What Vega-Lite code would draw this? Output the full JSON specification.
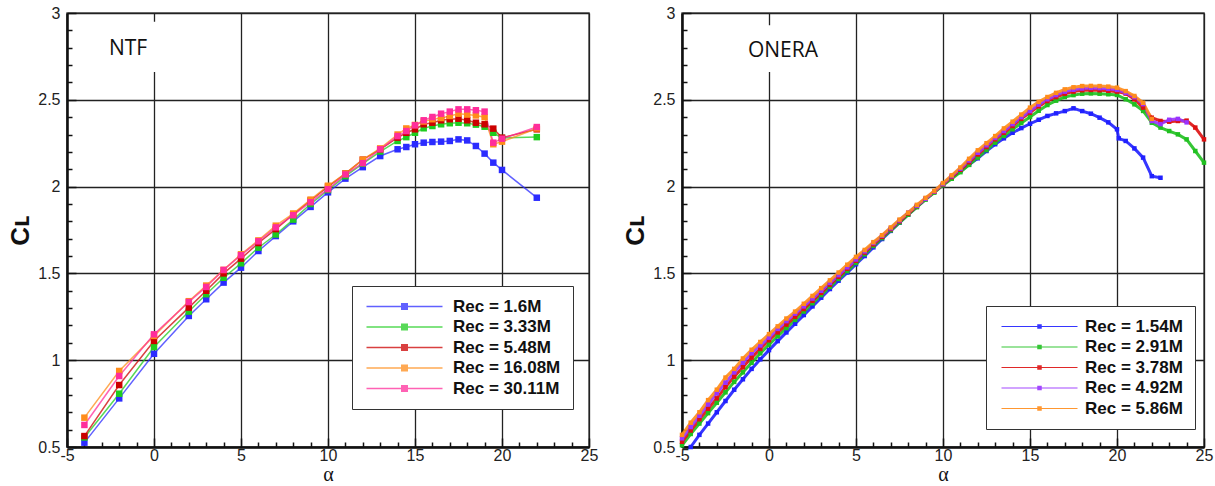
{
  "$schema": "https://vega.github.io/schema/vega-lite/v6.json",
  "background": "white",
  "padding": {"left": 7, "top": 4, "right": 2, "bottom": 0},
  "spacing": 23,
  "config": {
    "view": {"stroke": "#555", "strokeWidth": 1.5},
    "font": "Liberation Sans",
    "axis": {"labelFont": "Liberation Sans", "labelFontSize": 16, "labelColor": "#222", "domainColor": "#111", "domainWidth": 2.5, "tickColor": "#111", "tickWidth": 1.5, "gridColor": "#222", "gridWidth": 1.3, "labelOverlap": false, "labelFlush": false, "titleColor": "#111"}
  },
  "datasets": {
    "ntf": [
      {"s":"Rec = 1.6M","a":-4,"c":0.525},{"s":"Rec = 1.6M","a":-2,"c":0.78},{"s":"Rec = 1.6M","a":0,"c":1.037},{"s":"Rec = 1.6M","a":2,"c":1.255},{"s":"Rec = 1.6M","a":3,"c":1.351},{"s":"Rec = 1.6M","a":4,"c":1.447},{"s":"Rec = 1.6M","a":5,"c":1.533},{"s":"Rec = 1.6M","a":6,"c":1.629},{"s":"Rec = 1.6M","a":7,"c":1.715},{"s":"Rec = 1.6M","a":8,"c":1.8},{"s":"Rec = 1.6M","a":9,"c":1.883},{"s":"Rec = 1.6M","a":10,"c":1.967},{"s":"Rec = 1.6M","a":11,"c":2.046},{"s":"Rec = 1.6M","a":12,"c":2.112},{"s":"Rec = 1.6M","a":13,"c":2.176},{"s":"Rec = 1.6M","a":14,"c":2.215},{"s":"Rec = 1.6M","a":14.5,"c":2.228},{"s":"Rec = 1.6M","a":15,"c":2.244},{"s":"Rec = 1.6M","a":15.5,"c":2.253},{"s":"Rec = 1.6M","a":16,"c":2.257},{"s":"Rec = 1.6M","a":16.5,"c":2.259},{"s":"Rec = 1.6M","a":17,"c":2.263},{"s":"Rec = 1.6M","a":17.5,"c":2.272},{"s":"Rec = 1.6M","a":18,"c":2.266},{"s":"Rec = 1.6M","a":18.5,"c":2.234},{"s":"Rec = 1.6M","a":19,"c":2.19},{"s":"Rec = 1.6M","a":19.5,"c":2.138},{"s":"Rec = 1.6M","a":20,"c":2.096},{"s":"Rec = 1.6M","a":22,"c":1.936},
      {"s":"Rec = 3.33M","a":-4,"c":0.555},{"s":"Rec = 3.33M","a":-2,"c":0.807},{"s":"Rec = 3.33M","a":0,"c":1.076},{"s":"Rec = 3.33M","a":2,"c":1.28},{"s":"Rec = 3.33M","a":3,"c":1.38},{"s":"Rec = 3.33M","a":4,"c":1.475},{"s":"Rec = 3.33M","a":5,"c":1.558},{"s":"Rec = 3.33M","a":6,"c":1.648},{"s":"Rec = 3.33M","a":7,"c":1.724},{"s":"Rec = 3.33M","a":8,"c":1.81},{"s":"Rec = 3.33M","a":9,"c":1.9},{"s":"Rec = 3.33M","a":10,"c":1.98},{"s":"Rec = 3.33M","a":11,"c":2.06},{"s":"Rec = 3.33M","a":12,"c":2.132},{"s":"Rec = 3.33M","a":13,"c":2.202},{"s":"Rec = 3.33M","a":14,"c":2.263},{"s":"Rec = 3.33M","a":14.5,"c":2.285},{"s":"Rec = 3.33M","a":15,"c":2.31},{"s":"Rec = 3.33M","a":15.5,"c":2.336},{"s":"Rec = 3.33M","a":16,"c":2.349},{"s":"Rec = 3.33M","a":16.5,"c":2.359},{"s":"Rec = 3.33M","a":17,"c":2.365},{"s":"Rec = 3.33M","a":17.5,"c":2.368},{"s":"Rec = 3.33M","a":18,"c":2.365},{"s":"Rec = 3.33M","a":18.5,"c":2.357},{"s":"Rec = 3.33M","a":19,"c":2.345},{"s":"Rec = 3.33M","a":19.5,"c":2.31},{"s":"Rec = 3.33M","a":20,"c":2.28},{"s":"Rec = 3.33M","a":22,"c":2.285},
      {"s":"Rec = 5.48M","a":-4,"c":0.563},{"s":"Rec = 5.48M","a":-2,"c":0.857},{"s":"Rec = 5.48M","a":0,"c":1.111},{"s":"Rec = 5.48M","a":2,"c":1.303},{"s":"Rec = 5.48M","a":3,"c":1.4},{"s":"Rec = 5.48M","a":4,"c":1.5},{"s":"Rec = 5.48M","a":5,"c":1.585},{"s":"Rec = 5.48M","a":6,"c":1.675},{"s":"Rec = 5.48M","a":7,"c":1.755},{"s":"Rec = 5.48M","a":8,"c":1.84},{"s":"Rec = 5.48M","a":9,"c":1.92},{"s":"Rec = 5.48M","a":10,"c":2.0},{"s":"Rec = 5.48M","a":11,"c":2.075},{"s":"Rec = 5.48M","a":12,"c":2.155},{"s":"Rec = 5.48M","a":13,"c":2.215},{"s":"Rec = 5.48M","a":14,"c":2.282},{"s":"Rec = 5.48M","a":14.5,"c":2.31},{"s":"Rec = 5.48M","a":15,"c":2.33},{"s":"Rec = 5.48M","a":15.5,"c":2.359},{"s":"Rec = 5.48M","a":16,"c":2.368},{"s":"Rec = 5.48M","a":16.5,"c":2.382},{"s":"Rec = 5.48M","a":17,"c":2.388},{"s":"Rec = 5.48M","a":17.5,"c":2.391},{"s":"Rec = 5.48M","a":18,"c":2.382},{"s":"Rec = 5.48M","a":18.5,"c":2.368},{"s":"Rec = 5.48M","a":19,"c":2.359},{"s":"Rec = 5.48M","a":19.5,"c":2.334},{"s":"Rec = 5.48M","a":20,"c":2.282},{"s":"Rec = 5.48M","a":22,"c":2.33},
      {"s":"Rec = 16.08M","a":-4,"c":0.669},{"s":"Rec = 16.08M","a":-2,"c":0.938},{"s":"Rec = 16.08M","a":0,"c":1.14},{"s":"Rec = 16.08M","a":2,"c":1.34},{"s":"Rec = 16.08M","a":3,"c":1.43},{"s":"Rec = 16.08M","a":4,"c":1.52},{"s":"Rec = 16.08M","a":5,"c":1.61},{"s":"Rec = 16.08M","a":6,"c":1.69},{"s":"Rec = 16.08M","a":7,"c":1.775},{"s":"Rec = 16.08M","a":8,"c":1.845},{"s":"Rec = 16.08M","a":9,"c":1.925},{"s":"Rec = 16.08M","a":10,"c":2.005},{"s":"Rec = 16.08M","a":11,"c":2.075},{"s":"Rec = 16.08M","a":12,"c":2.155},{"s":"Rec = 16.08M","a":13,"c":2.22},{"s":"Rec = 16.08M","a":14,"c":2.3},{"s":"Rec = 16.08M","a":14.5,"c":2.335},{"s":"Rec = 16.08M","a":15,"c":2.355},{"s":"Rec = 16.08M","a":15.5,"c":2.375},{"s":"Rec = 16.08M","a":16,"c":2.388},{"s":"Rec = 16.08M","a":16.5,"c":2.395},{"s":"Rec = 16.08M","a":17,"c":2.407},{"s":"Rec = 16.08M","a":17.5,"c":2.42},{"s":"Rec = 16.08M","a":18,"c":2.415},{"s":"Rec = 16.08M","a":18.5,"c":2.41},{"s":"Rec = 16.08M","a":19,"c":2.4},{"s":"Rec = 16.08M","a":19.5,"c":2.244},{"s":"Rec = 16.08M","a":20,"c":2.259},{"s":"Rec = 16.08M","a":22,"c":2.335},
      {"s":"Rec = 30.11M","a":-4,"c":0.627},{"s":"Rec = 30.11M","a":-2,"c":0.909},{"s":"Rec = 30.11M","a":0,"c":1.149},{"s":"Rec = 30.11M","a":2,"c":1.335},{"s":"Rec = 30.11M","a":3,"c":1.422},{"s":"Rec = 30.11M","a":4,"c":1.52},{"s":"Rec = 30.11M","a":5,"c":1.605},{"s":"Rec = 30.11M","a":6,"c":1.685},{"s":"Rec = 30.11M","a":7,"c":1.765},{"s":"Rec = 30.11M","a":8,"c":1.835},{"s":"Rec = 30.11M","a":9,"c":1.91},{"s":"Rec = 30.11M","a":10,"c":1.985},{"s":"Rec = 30.11M","a":11,"c":2.07},{"s":"Rec = 30.11M","a":12,"c":2.135},{"s":"Rec = 30.11M","a":13,"c":2.215},{"s":"Rec = 30.11M","a":14,"c":2.291},{"s":"Rec = 30.11M","a":14.5,"c":2.32},{"s":"Rec = 30.11M","a":15,"c":2.353},{"s":"Rec = 30.11M","a":15.5,"c":2.382},{"s":"Rec = 30.11M","a":16,"c":2.401},{"s":"Rec = 30.11M","a":16.5,"c":2.42},{"s":"Rec = 30.11M","a":17,"c":2.432},{"s":"Rec = 30.11M","a":17.5,"c":2.445},{"s":"Rec = 30.11M","a":18,"c":2.445},{"s":"Rec = 30.11M","a":18.5,"c":2.44},{"s":"Rec = 30.11M","a":19,"c":2.432},{"s":"Rec = 30.11M","a":19.5,"c":2.253},{"s":"Rec = 30.11M","a":20,"c":2.276},{"s":"Rec = 30.11M","a":22,"c":2.343}
    ],
    "onera": [
      {"s":"Rec = 1.54M","a":-4.5,"c":0.5},{"s":"Rec = 1.54M","a":-4,"c":0.57},{"s":"Rec = 1.54M","a":-3.5,"c":0.635},{"s":"Rec = 1.54M","a":-3,"c":0.7},{"s":"Rec = 1.54M","a":-2.5,"c":0.765},{"s":"Rec = 1.54M","a":-2,"c":0.83},{"s":"Rec = 1.54M","a":-1.5,"c":0.89},{"s":"Rec = 1.54M","a":-1,"c":0.95},{"s":"Rec = 1.54M","a":-0.5,"c":1.005},{"s":"Rec = 1.54M","a":0,"c":1.058},{"s":"Rec = 1.54M","a":0.5,"c":1.11},{"s":"Rec = 1.54M","a":1,"c":1.16},{"s":"Rec = 1.54M","a":1.5,"c":1.21},{"s":"Rec = 1.54M","a":2,"c":1.26},{"s":"Rec = 1.54M","a":2.5,"c":1.31},{"s":"Rec = 1.54M","a":3,"c":1.36},{"s":"Rec = 1.54M","a":3.5,"c":1.41},{"s":"Rec = 1.54M","a":4,"c":1.458},{"s":"Rec = 1.54M","a":4.5,"c":1.505},{"s":"Rec = 1.54M","a":5,"c":1.553},{"s":"Rec = 1.54M","a":5.5,"c":1.6},{"s":"Rec = 1.54M","a":6,"c":1.65},{"s":"Rec = 1.54M","a":6.5,"c":1.698},{"s":"Rec = 1.54M","a":7,"c":1.745},{"s":"Rec = 1.54M","a":7.5,"c":1.792},{"s":"Rec = 1.54M","a":8,"c":1.838},{"s":"Rec = 1.54M","a":8.5,"c":1.883},{"s":"Rec = 1.54M","a":9,"c":1.928},{"s":"Rec = 1.54M","a":9.5,"c":1.97},{"s":"Rec = 1.54M","a":10,"c":2.01},{"s":"Rec = 1.54M","a":10.5,"c":2.05},{"s":"Rec = 1.54M","a":11,"c":2.09},{"s":"Rec = 1.54M","a":11.5,"c":2.127},{"s":"Rec = 1.54M","a":12,"c":2.163},{"s":"Rec = 1.54M","a":12.5,"c":2.205},{"s":"Rec = 1.54M","a":13,"c":2.244},{"s":"Rec = 1.54M","a":13.5,"c":2.278},{"s":"Rec = 1.54M","a":14,"c":2.31},{"s":"Rec = 1.54M","a":14.5,"c":2.337},{"s":"Rec = 1.54M","a":15,"c":2.362},{"s":"Rec = 1.54M","a":15.5,"c":2.385},{"s":"Rec = 1.54M","a":16,"c":2.407},{"s":"Rec = 1.54M","a":16.5,"c":2.422},{"s":"Rec = 1.54M","a":17,"c":2.435},{"s":"Rec = 1.54M","a":17.5,"c":2.451},{"s":"Rec = 1.54M","a":18,"c":2.435},{"s":"Rec = 1.54M","a":18.5,"c":2.42},{"s":"Rec = 1.54M","a":19,"c":2.397},{"s":"Rec = 1.54M","a":19.5,"c":2.37},{"s":"Rec = 1.54M","a":20,"c":2.33},{"s":"Rec = 1.54M","a":20.1,"c":2.278},{"s":"Rec = 1.54M","a":20.5,"c":2.263},{"s":"Rec = 1.54M","a":21,"c":2.22},{"s":"Rec = 1.54M","a":21.5,"c":2.167},{"s":"Rec = 1.54M","a":22,"c":2.06},{"s":"Rec = 1.54M","a":22.5,"c":2.051},
      {"s":"Rec = 2.91M","a":-5,"c":0.51},{"s":"Rec = 2.91M","a":-4.5,"c":0.575},{"s":"Rec = 2.91M","a":-4,"c":0.635},{"s":"Rec = 2.91M","a":-3.5,"c":0.695},{"s":"Rec = 2.91M","a":-3,"c":0.755},{"s":"Rec = 2.91M","a":-2.5,"c":0.815},{"s":"Rec = 2.91M","a":-2,"c":0.875},{"s":"Rec = 2.91M","a":-1.5,"c":0.93},{"s":"Rec = 2.91M","a":-1,"c":0.985},{"s":"Rec = 2.91M","a":-0.5,"c":1.04},{"s":"Rec = 2.91M","a":0,"c":1.09},{"s":"Rec = 2.91M","a":0.5,"c":1.138},{"s":"Rec = 2.91M","a":1,"c":1.185},{"s":"Rec = 2.91M","a":1.5,"c":1.232},{"s":"Rec = 2.91M","a":2,"c":1.28},{"s":"Rec = 2.91M","a":2.5,"c":1.328},{"s":"Rec = 2.91M","a":3,"c":1.375},{"s":"Rec = 2.91M","a":3.5,"c":1.422},{"s":"Rec = 2.91M","a":4,"c":1.468},{"s":"Rec = 2.91M","a":4.5,"c":1.513},{"s":"Rec = 2.91M","a":5,"c":1.56},{"s":"Rec = 2.91M","a":5.5,"c":1.61},{"s":"Rec = 2.91M","a":6,"c":1.658},{"s":"Rec = 2.91M","a":6.5,"c":1.703},{"s":"Rec = 2.91M","a":7,"c":1.748},{"s":"Rec = 2.91M","a":7.5,"c":1.793},{"s":"Rec = 2.91M","a":8,"c":1.838},{"s":"Rec = 2.91M","a":8.5,"c":1.882},{"s":"Rec = 2.91M","a":9,"c":1.925},{"s":"Rec = 2.91M","a":9.5,"c":1.965},{"s":"Rec = 2.91M","a":10,"c":2.008},{"s":"Rec = 2.91M","a":10.5,"c":2.045},{"s":"Rec = 2.91M","a":11,"c":2.083},{"s":"Rec = 2.91M","a":11.5,"c":2.125},{"s":"Rec = 2.91M","a":12,"c":2.167},{"s":"Rec = 2.91M","a":12.5,"c":2.21},{"s":"Rec = 2.91M","a":13,"c":2.253},{"s":"Rec = 2.91M","a":13.5,"c":2.292},{"s":"Rec = 2.91M","a":14,"c":2.33},{"s":"Rec = 2.91M","a":14.5,"c":2.366},{"s":"Rec = 2.91M","a":15,"c":2.401},{"s":"Rec = 2.91M","a":15.5,"c":2.437},{"s":"Rec = 2.91M","a":16,"c":2.47},{"s":"Rec = 2.91M","a":16.5,"c":2.495},{"s":"Rec = 2.91M","a":17,"c":2.516},{"s":"Rec = 2.91M","a":17.5,"c":2.527},{"s":"Rec = 2.91M","a":18,"c":2.535},{"s":"Rec = 2.91M","a":18.5,"c":2.537},{"s":"Rec = 2.91M","a":19,"c":2.535},{"s":"Rec = 2.91M","a":19.5,"c":2.532},{"s":"Rec = 2.91M","a":20,"c":2.528},{"s":"Rec = 2.91M","a":20.5,"c":2.503},{"s":"Rec = 2.91M","a":21,"c":2.474},{"s":"Rec = 2.91M","a":21.5,"c":2.436},{"s":"Rec = 2.91M","a":22,"c":2.368},{"s":"Rec = 2.91M","a":22.5,"c":2.34},{"s":"Rec = 2.91M","a":23,"c":2.32},{"s":"Rec = 2.91M","a":23.5,"c":2.301},{"s":"Rec = 2.91M","a":24,"c":2.272},{"s":"Rec = 2.91M","a":24.5,"c":2.205},{"s":"Rec = 2.91M","a":25,"c":2.138},
      {"s":"Rec = 3.78M","a":-5,"c":0.53},{"s":"Rec = 3.78M","a":-4.5,"c":0.595},{"s":"Rec = 3.78M","a":-4,"c":0.66},{"s":"Rec = 3.78M","a":-3.5,"c":0.72},{"s":"Rec = 3.78M","a":-3,"c":0.78},{"s":"Rec = 3.78M","a":-2.5,"c":0.845},{"s":"Rec = 3.78M","a":-2,"c":0.905},{"s":"Rec = 3.78M","a":-1.5,"c":0.96},{"s":"Rec = 3.78M","a":-1,"c":1.015},{"s":"Rec = 3.78M","a":-0.5,"c":1.065},{"s":"Rec = 3.78M","a":0,"c":1.115},{"s":"Rec = 3.78M","a":0.5,"c":1.16},{"s":"Rec = 3.78M","a":1,"c":1.205},{"s":"Rec = 3.78M","a":1.5,"c":1.25},{"s":"Rec = 3.78M","a":2,"c":1.295},{"s":"Rec = 3.78M","a":2.5,"c":1.342},{"s":"Rec = 3.78M","a":3,"c":1.388},{"s":"Rec = 3.78M","a":3.5,"c":1.435},{"s":"Rec = 3.78M","a":4,"c":1.48},{"s":"Rec = 3.78M","a":4.5,"c":1.527},{"s":"Rec = 3.78M","a":5,"c":1.573},{"s":"Rec = 3.78M","a":5.5,"c":1.62},{"s":"Rec = 3.78M","a":6,"c":1.667},{"s":"Rec = 3.78M","a":6.5,"c":1.71},{"s":"Rec = 3.78M","a":7,"c":1.755},{"s":"Rec = 3.78M","a":7.5,"c":1.8},{"s":"Rec = 3.78M","a":8,"c":1.845},{"s":"Rec = 3.78M","a":8.5,"c":1.888},{"s":"Rec = 3.78M","a":9,"c":1.93},{"s":"Rec = 3.78M","a":9.5,"c":1.97},{"s":"Rec = 3.78M","a":10,"c":2.013},{"s":"Rec = 3.78M","a":10.5,"c":2.055},{"s":"Rec = 3.78M","a":11,"c":2.097},{"s":"Rec = 3.78M","a":11.5,"c":2.14},{"s":"Rec = 3.78M","a":12,"c":2.185},{"s":"Rec = 3.78M","a":12.5,"c":2.228},{"s":"Rec = 3.78M","a":13,"c":2.272},{"s":"Rec = 3.78M","a":13.5,"c":2.31},{"s":"Rec = 3.78M","a":14,"c":2.349},{"s":"Rec = 3.78M","a":14.5,"c":2.39},{"s":"Rec = 3.78M","a":15,"c":2.426},{"s":"Rec = 3.78M","a":15.5,"c":2.462},{"s":"Rec = 3.78M","a":16,"c":2.493},{"s":"Rec = 3.78M","a":16.5,"c":2.516},{"s":"Rec = 3.78M","a":17,"c":2.535},{"s":"Rec = 3.78M","a":17.5,"c":2.547},{"s":"Rec = 3.78M","a":18,"c":2.555},{"s":"Rec = 3.78M","a":18.5,"c":2.557},{"s":"Rec = 3.78M","a":19,"c":2.555},{"s":"Rec = 3.78M","a":19.5,"c":2.552},{"s":"Rec = 3.78M","a":20,"c":2.547},{"s":"Rec = 3.78M","a":20.5,"c":2.536},{"s":"Rec = 3.78M","a":21,"c":2.503},{"s":"Rec = 3.78M","a":21.5,"c":2.455},{"s":"Rec = 3.78M","a":22,"c":2.397},{"s":"Rec = 3.78M","a":22.5,"c":2.378},{"s":"Rec = 3.78M","a":23,"c":2.374},{"s":"Rec = 3.78M","a":23.5,"c":2.378},{"s":"Rec = 3.78M","a":24,"c":2.38},{"s":"Rec = 3.78M","a":24.5,"c":2.34},{"s":"Rec = 3.78M","a":25,"c":2.272},
      {"s":"Rec = 4.92M","a":-5,"c":0.55},{"s":"Rec = 4.92M","a":-4.5,"c":0.615},{"s":"Rec = 4.92M","a":-4,"c":0.68},{"s":"Rec = 4.92M","a":-3.5,"c":0.745},{"s":"Rec = 4.92M","a":-3,"c":0.81},{"s":"Rec = 4.92M","a":-2.5,"c":0.87},{"s":"Rec = 4.92M","a":-2,"c":0.93},{"s":"Rec = 4.92M","a":-1.5,"c":0.985},{"s":"Rec = 4.92M","a":-1,"c":1.04},{"s":"Rec = 4.92M","a":-0.5,"c":1.085},{"s":"Rec = 4.92M","a":0,"c":1.13},{"s":"Rec = 4.92M","a":0.5,"c":1.18},{"s":"Rec = 4.92M","a":1,"c":1.225},{"s":"Rec = 4.92M","a":1.5,"c":1.268},{"s":"Rec = 4.92M","a":2,"c":1.31},{"s":"Rec = 4.92M","a":2.5,"c":1.355},{"s":"Rec = 4.92M","a":3,"c":1.4},{"s":"Rec = 4.92M","a":3.5,"c":1.445},{"s":"Rec = 4.92M","a":4,"c":1.49},{"s":"Rec = 4.92M","a":4.5,"c":1.535},{"s":"Rec = 4.92M","a":5,"c":1.58},{"s":"Rec = 4.92M","a":5.5,"c":1.627},{"s":"Rec = 4.92M","a":6,"c":1.675},{"s":"Rec = 4.92M","a":6.5,"c":1.717},{"s":"Rec = 4.92M","a":7,"c":1.76},{"s":"Rec = 4.92M","a":7.5,"c":1.805},{"s":"Rec = 4.92M","a":8,"c":1.85},{"s":"Rec = 4.92M","a":8.5,"c":1.89},{"s":"Rec = 4.92M","a":9,"c":1.93},{"s":"Rec = 4.92M","a":9.5,"c":1.972},{"s":"Rec = 4.92M","a":10,"c":2.015},{"s":"Rec = 4.92M","a":10.5,"c":2.06},{"s":"Rec = 4.92M","a":11,"c":2.103},{"s":"Rec = 4.92M","a":11.5,"c":2.15},{"s":"Rec = 4.92M","a":12,"c":2.195},{"s":"Rec = 4.92M","a":12.5,"c":2.238},{"s":"Rec = 4.92M","a":13,"c":2.28},{"s":"Rec = 4.92M","a":13.5,"c":2.32},{"s":"Rec = 4.92M","a":14,"c":2.36},{"s":"Rec = 4.92M","a":14.5,"c":2.4},{"s":"Rec = 4.92M","a":15,"c":2.435},{"s":"Rec = 4.92M","a":15.5,"c":2.472},{"s":"Rec = 4.92M","a":16,"c":2.503},{"s":"Rec = 4.92M","a":16.5,"c":2.527},{"s":"Rec = 4.92M","a":17,"c":2.547},{"s":"Rec = 4.92M","a":17.5,"c":2.558},{"s":"Rec = 4.92M","a":18,"c":2.565},{"s":"Rec = 4.92M","a":18.5,"c":2.568},{"s":"Rec = 4.92M","a":19,"c":2.567},{"s":"Rec = 4.92M","a":19.5,"c":2.563},{"s":"Rec = 4.92M","a":20,"c":2.557},{"s":"Rec = 4.92M","a":20.5,"c":2.54},{"s":"Rec = 4.92M","a":21,"c":2.515},{"s":"Rec = 4.92M","a":21.5,"c":2.475},{"s":"Rec = 4.92M","a":22,"c":2.378},{"s":"Rec = 4.92M","a":22.5,"c":2.36},{"s":"Rec = 4.92M","a":23,"c":2.385},{"s":"Rec = 4.92M","a":23.5,"c":2.39},{"s":"Rec = 4.92M","a":24,"c":2.37},
      {"s":"Rec = 5.86M","a":-5,"c":0.57},{"s":"Rec = 5.86M","a":-4.5,"c":0.64},{"s":"Rec = 5.86M","a":-4,"c":0.7},{"s":"Rec = 5.86M","a":-3.5,"c":0.77},{"s":"Rec = 5.86M","a":-3,"c":0.83},{"s":"Rec = 5.86M","a":-2.5,"c":0.9},{"s":"Rec = 5.86M","a":-2,"c":0.95},{"s":"Rec = 5.86M","a":-1.5,"c":1.01},{"s":"Rec = 5.86M","a":-1,"c":1.06},{"s":"Rec = 5.86M","a":-0.5,"c":1.105},{"s":"Rec = 5.86M","a":0,"c":1.15},{"s":"Rec = 5.86M","a":0.5,"c":1.195},{"s":"Rec = 5.86M","a":1,"c":1.24},{"s":"Rec = 5.86M","a":1.5,"c":1.28},{"s":"Rec = 5.86M","a":2,"c":1.325},{"s":"Rec = 5.86M","a":2.5,"c":1.37},{"s":"Rec = 5.86M","a":3,"c":1.415},{"s":"Rec = 5.86M","a":3.5,"c":1.46},{"s":"Rec = 5.86M","a":4,"c":1.505},{"s":"Rec = 5.86M","a":4.5,"c":1.55},{"s":"Rec = 5.86M","a":5,"c":1.595},{"s":"Rec = 5.86M","a":5.5,"c":1.635},{"s":"Rec = 5.86M","a":6,"c":1.68},{"s":"Rec = 5.86M","a":6.5,"c":1.72},{"s":"Rec = 5.86M","a":7,"c":1.765},{"s":"Rec = 5.86M","a":7.5,"c":1.81},{"s":"Rec = 5.86M","a":8,"c":1.85},{"s":"Rec = 5.86M","a":8.5,"c":1.895},{"s":"Rec = 5.86M","a":9,"c":1.935},{"s":"Rec = 5.86M","a":9.5,"c":1.975},{"s":"Rec = 5.86M","a":10,"c":2.02},{"s":"Rec = 5.86M","a":10.5,"c":2.065},{"s":"Rec = 5.86M","a":11,"c":2.11},{"s":"Rec = 5.86M","a":11.5,"c":2.16},{"s":"Rec = 5.86M","a":12,"c":2.209},{"s":"Rec = 5.86M","a":12.5,"c":2.25},{"s":"Rec = 5.86M","a":13,"c":2.291},{"s":"Rec = 5.86M","a":13.5,"c":2.335},{"s":"Rec = 5.86M","a":14,"c":2.374},{"s":"Rec = 5.86M","a":14.5,"c":2.415},{"s":"Rec = 5.86M","a":15,"c":2.455},{"s":"Rec = 5.86M","a":15.5,"c":2.488},{"s":"Rec = 5.86M","a":16,"c":2.516},{"s":"Rec = 5.86M","a":16.5,"c":2.54},{"s":"Rec = 5.86M","a":17,"c":2.56},{"s":"Rec = 5.86M","a":17.5,"c":2.572},{"s":"Rec = 5.86M","a":18,"c":2.579},{"s":"Rec = 5.86M","a":18.5,"c":2.58},{"s":"Rec = 5.86M","a":19,"c":2.579},{"s":"Rec = 5.86M","a":19.5,"c":2.576},{"s":"Rec = 5.86M","a":20,"c":2.57},{"s":"Rec = 5.86M","a":20.5,"c":2.55},{"s":"Rec = 5.86M","a":21,"c":2.522},{"s":"Rec = 5.86M","a":21.5,"c":2.483},{"s":"Rec = 5.86M","a":22,"c":2.39}
    ],
    "notes": [{"t": "NTF"}],
    "notes2": [{"t": "ONERA"}]
  },
  "hconcat": [
    {
      "width": 522, "height": 434,
      "layer": [
        {"data": {"name": "ntf"}, "mark": {"type": "line", "strokeWidth": 1.5, "opacity": 0.75},
          "encoding": {
            "x": {"field": "a", "type": "quantitative", "scale": {"domain": [-5, 25], "nice": false, "zero": false},
              "axis": {"title": "α", "titleFont": "Liberation Serif", "titleFontSize": 20, "titleFontWeight": "normal", "titlePadding": -3, "values": [-5,-4,-3,-2,-1,0,1,2,3,4,5,6,7,8,9,10,11,12,13,14,15,16,17,18,19,20,21,22,23,24,25], "labelExpr": "datum.value % 5 === 0 ? '' + datum.value : ''", "tickSize": {"condition": {"test": "datum.value % 5 === 0", "value": -9}, "value": -5}, "gridOpacity": {"condition": {"test": "datum.value % 5 === 0", "value": 1}, "value": 0}, "labelPadding": 9}},
            "y": {"field": "c", "type": "quantitative", "scale": {"domain": [0.5, 3], "nice": false, "zero": false},
              "axis": {"title": "Cʟ", "titleFontSize": 26, "titleFontWeight": "bold", "titlePadding": 4, "values": [0.5,0.6,0.7,0.8,0.9,1,1.1,1.2,1.3,1.4,1.5,1.6,1.7,1.8,1.9,2,2.1,2.2,2.3,2.4,2.5,2.6,2.7,2.8,2.9,3], "labelExpr": "(datum.value * 2) % 1 === 0 ? '' + datum.value : ''", "tickSize": {"condition": {"test": "(datum.value * 2) % 1 === 0", "value": -9}, "value": -5}, "gridOpacity": {"condition": {"test": "(datum.value * 2) % 1 === 0", "value": 1}, "value": 0}, "labelPadding": 16}},
            "color": {"field": "s", "type": "nominal",
              "scale": {"domain": ["Rec = 1.6M","Rec = 3.33M","Rec = 5.48M","Rec = 16.08M","Rec = 30.11M"], "range": ["#2b2bff","#1fcc1f","#cc0000","#ff8c1a","#ff2d9b"]},
              "legend": {"orient": "none", "legendX": 285, "legendY": 273, "title": null, "symbolType": "M-7.6,-0.15H7.6V0.15H-7.6Z M-0.7,-0.7H0.7V0.7H-0.7Z", "symbolSize": 100, "symbolOffset": 32, "symbolStrokeWidth": 0, "labelOffset": 40, "labelFont": "Liberation Sans", "labelFontSize": 17, "labelFontWeight": "bold", "labelColor": "#111", "labelLimit": 300, "padding": 12, "rowPadding": 2.5, "strokeColor": "#333", "fillColor": "white"}}}},
        {"data": {"name": "ntf"}, "mark": {"type": "point", "shape": "square", "filled": true, "size": 42, "opacity": 1},
          "encoding": {
            "x": {"field": "a", "type": "quantitative", "scale": {"domain": [-5, 25], "nice": false, "zero": false},
              "axis": {"title": "α", "titleFont": "Liberation Serif", "titleFontSize": 20, "titleFontWeight": "normal", "titlePadding": -3, "values": [-5,-4,-3,-2,-1,0,1,2,3,4,5,6,7,8,9,10,11,12,13,14,15,16,17,18,19,20,21,22,23,24,25], "labelExpr": "datum.value % 5 === 0 ? '' + datum.value : ''", "tickSize": {"condition": {"test": "datum.value % 5 === 0", "value": -9}, "value": -5}, "gridOpacity": {"condition": {"test": "datum.value % 5 === 0", "value": 1}, "value": 0}, "labelPadding": 9}},
            "y": {"field": "c", "type": "quantitative", "scale": {"domain": [0.5, 3], "nice": false, "zero": false},
              "axis": {"title": "Cʟ", "titleFontSize": 26, "titleFontWeight": "bold", "titlePadding": 4, "values": [0.5,0.6,0.7,0.8,0.9,1,1.1,1.2,1.3,1.4,1.5,1.6,1.7,1.8,1.9,2,2.1,2.2,2.3,2.4,2.5,2.6,2.7,2.8,2.9,3], "labelExpr": "(datum.value * 2) % 1 === 0 ? '' + datum.value : ''", "tickSize": {"condition": {"test": "(datum.value * 2) % 1 === 0", "value": -9}, "value": -5}, "gridOpacity": {"condition": {"test": "(datum.value * 2) % 1 === 0", "value": 1}, "value": 0}, "labelPadding": 16}},
            "color": {"field": "s", "type": "nominal",
              "scale": {"domain": ["Rec = 1.6M","Rec = 3.33M","Rec = 5.48M","Rec = 16.08M","Rec = 30.11M"], "range": ["#2b2bff","#1fcc1f","#cc0000","#ff8c1a","#ff2d9b"]},
              "legend": {"orient": "none", "legendX": 285, "legendY": 273, "title": null, "symbolType": "M-7.6,-0.15H7.6V0.15H-7.6Z M-0.7,-0.7H0.7V0.7H-0.7Z", "symbolSize": 100, "symbolOffset": 32, "symbolStrokeWidth": 0, "labelOffset": 40, "labelFont": "Liberation Sans", "labelFontSize": 17, "labelFontWeight": "bold", "labelColor": "#111", "labelLimit": 300, "padding": 12, "rowPadding": 2.5, "strokeColor": "#333", "fillColor": "white"}}}},
        {"data": {"name": "notes"}, "mark": {"type": "rect", "color": "white"},
          "encoding": {
            "x": {"datum": -2.87, "type": "quantitative", "scale": {"domain": [-5, 25], "nice": false, "zero": false},
              "axis": {"title": "α", "titleFont": "Liberation Serif", "titleFontSize": 20, "titleFontWeight": "normal", "titlePadding": -3, "values": [-5,-4,-3,-2,-1,0,1,2,3,4,5,6,7,8,9,10,11,12,13,14,15,16,17,18,19,20,21,22,23,24,25], "labelExpr": "datum.value % 5 === 0 ? '' + datum.value : ''", "tickSize": {"condition": {"test": "datum.value % 5 === 0", "value": -9}, "value": -5}, "gridOpacity": {"condition": {"test": "datum.value % 5 === 0", "value": 1}, "value": 0}, "labelPadding": 9}},
            "x2": {"datum": 0.3},
            "y": {"datum": 2.95, "type": "quantitative", "scale": {"domain": [0.5, 3], "nice": false, "zero": false},
              "axis": {"title": "Cʟ", "titleFontSize": 26, "titleFontWeight": "bold", "titlePadding": 4, "values": [0.5,0.6,0.7,0.8,0.9,1,1.1,1.2,1.3,1.4,1.5,1.6,1.7,1.8,1.9,2,2.1,2.2,2.3,2.4,2.5,2.6,2.7,2.8,2.9,3], "labelExpr": "(datum.value * 2) % 1 === 0 ? '' + datum.value : ''", "tickSize": {"condition": {"test": "(datum.value * 2) % 1 === 0", "value": -9}, "value": -5}, "gridOpacity": {"condition": {"test": "(datum.value * 2) % 1 === 0", "value": 1}, "value": 0}, "labelPadding": 16}},
            "y2": {"datum": 2.66}}},
        {"data": {"name": "notes"}, "mark": {"type": "text", "align": "left", "baseline": "middle", "font": "Open Sans", "fontSize": 21, "color": "#111"},
          "encoding": {
            "x": {"datum": -2.59, "type": "quantitative", "scale": {"domain": [-5, 25], "nice": false, "zero": false},
              "axis": {"title": "α", "titleFont": "Liberation Serif", "titleFontSize": 20, "titleFontWeight": "normal", "titlePadding": -3, "values": [-5,-4,-3,-2,-1,0,1,2,3,4,5,6,7,8,9,10,11,12,13,14,15,16,17,18,19,20,21,22,23,24,25], "labelExpr": "datum.value % 5 === 0 ? '' + datum.value : ''", "tickSize": {"condition": {"test": "datum.value % 5 === 0", "value": -9}, "value": -5}, "gridOpacity": {"condition": {"test": "datum.value % 5 === 0", "value": 1}, "value": 0}, "labelPadding": 9}},
            "y": {"datum": 2.79, "type": "quantitative", "scale": {"domain": [0.5, 3], "nice": false, "zero": false},
              "axis": {"title": "Cʟ", "titleFontSize": 26, "titleFontWeight": "bold", "titlePadding": 4, "values": [0.5,0.6,0.7,0.8,0.9,1,1.1,1.2,1.3,1.4,1.5,1.6,1.7,1.8,1.9,2,2.1,2.2,2.3,2.4,2.5,2.6,2.7,2.8,2.9,3], "labelExpr": "(datum.value * 2) % 1 === 0 ? '' + datum.value : ''", "tickSize": {"condition": {"test": "(datum.value * 2) % 1 === 0", "value": -9}, "value": -5}, "gridOpacity": {"condition": {"test": "(datum.value * 2) % 1 === 0", "value": 1}, "value": 0}, "labelPadding": 16}},
            "text": {"field": "t"}}}
      ]
    },
    {
      "width": 522, "height": 434,
      "layer": [
        {"data": {"name": "onera"}, "mark": {"type": "line", "strokeWidth": 3, "opacity": 0.9},
          "encoding": {
            "x": {"field": "a", "type": "quantitative", "scale": {"domain": [-5, 25], "nice": false, "zero": false},
              "axis": {"title": "α", "titleFont": "Liberation Serif", "titleFontSize": 20, "titleFontWeight": "normal", "titlePadding": -3, "values": [-5,-4,-3,-2,-1,0,1,2,3,4,5,6,7,8,9,10,11,12,13,14,15,16,17,18,19,20,21,22,23,24,25], "labelExpr": "datum.value % 5 === 0 ? '' + datum.value : ''", "tickSize": {"condition": {"test": "datum.value % 5 === 0", "value": -9}, "value": -5}, "gridOpacity": {"condition": {"test": "datum.value % 5 === 0", "value": 1}, "value": 0}, "labelPadding": 9}},
            "y": {"field": "c", "type": "quantitative", "scale": {"domain": [0.5, 3], "nice": false, "zero": false},
              "axis": {"title": "Cʟ", "titleFontSize": 26, "titleFontWeight": "bold", "titlePadding": 4, "values": [0.5,0.6,0.7,0.8,0.9,1,1.1,1.2,1.3,1.4,1.5,1.6,1.7,1.8,1.9,2,2.1,2.2,2.3,2.4,2.5,2.6,2.7,2.8,2.9,3], "labelExpr": "(datum.value * 2) % 1 === 0 ? '' + datum.value : ''", "tickSize": {"condition": {"test": "(datum.value * 2) % 1 === 0", "value": -9}, "value": -5}, "gridOpacity": {"condition": {"test": "(datum.value * 2) % 1 === 0", "value": 1}, "value": 0}, "labelPadding": 16}},
            "color": {"field": "s", "type": "nominal",
              "scale": {"domain": ["Rec = 1.54M","Rec = 2.91M","Rec = 3.78M","Rec = 4.92M","Rec = 5.86M"], "range": ["#2020ff","#20c020","#dd1111","#9933ff","#ff8c1a"]},
              "legend": {"orient": "none", "legendX": 304, "legendY": 293, "title": null, "symbolType": "M-7.6,-0.12H7.6V0.12H-7.6Z M-0.45,-0.45H0.45V0.45H-0.45Z", "symbolSize": 100, "symbolOffset": 33, "symbolStrokeWidth": 0, "labelOffset": 37, "labelFont": "Liberation Sans", "labelFontSize": 17, "labelFontWeight": "bold", "labelColor": "#111", "labelLimit": 300, "padding": 12, "rowPadding": 2.5, "strokeColor": "#333", "fillColor": "white"}}}},
        {"data": {"name": "onera"}, "mark": {"type": "point", "shape": "square", "filled": true, "size": 20, "opacity": 1},
          "encoding": {
            "x": {"field": "a", "type": "quantitative", "scale": {"domain": [-5, 25], "nice": false, "zero": false},
              "axis": {"title": "α", "titleFont": "Liberation Serif", "titleFontSize": 20, "titleFontWeight": "normal", "titlePadding": -3, "values": [-5,-4,-3,-2,-1,0,1,2,3,4,5,6,7,8,9,10,11,12,13,14,15,16,17,18,19,20,21,22,23,24,25], "labelExpr": "datum.value % 5 === 0 ? '' + datum.value : ''", "tickSize": {"condition": {"test": "datum.value % 5 === 0", "value": -9}, "value": -5}, "gridOpacity": {"condition": {"test": "datum.value % 5 === 0", "value": 1}, "value": 0}, "labelPadding": 9}},
            "y": {"field": "c", "type": "quantitative", "scale": {"domain": [0.5, 3], "nice": false, "zero": false},
              "axis": {"title": "Cʟ", "titleFontSize": 26, "titleFontWeight": "bold", "titlePadding": 4, "values": [0.5,0.6,0.7,0.8,0.9,1,1.1,1.2,1.3,1.4,1.5,1.6,1.7,1.8,1.9,2,2.1,2.2,2.3,2.4,2.5,2.6,2.7,2.8,2.9,3], "labelExpr": "(datum.value * 2) % 1 === 0 ? '' + datum.value : ''", "tickSize": {"condition": {"test": "(datum.value * 2) % 1 === 0", "value": -9}, "value": -5}, "gridOpacity": {"condition": {"test": "(datum.value * 2) % 1 === 0", "value": 1}, "value": 0}, "labelPadding": 16}},
            "color": {"field": "s", "type": "nominal",
              "scale": {"domain": ["Rec = 1.54M","Rec = 2.91M","Rec = 3.78M","Rec = 4.92M","Rec = 5.86M"], "range": ["#2020ff","#20c020","#dd1111","#9933ff","#ff8c1a"]},
              "legend": {"orient": "none", "legendX": 304, "legendY": 293, "title": null, "symbolType": "M-7.6,-0.12H7.6V0.12H-7.6Z M-0.45,-0.45H0.45V0.45H-0.45Z", "symbolSize": 100, "symbolOffset": 33, "symbolStrokeWidth": 0, "labelOffset": 37, "labelFont": "Liberation Sans", "labelFontSize": 17, "labelFontWeight": "bold", "labelColor": "#111", "labelLimit": 300, "padding": 12, "rowPadding": 2.5, "strokeColor": "#333", "fillColor": "white"}}}},
        {"data": {"name": "notes2"}, "mark": {"type": "rect", "color": "white"},
          "encoding": {
            "x": {"datum": -1.6, "type": "quantitative", "scale": {"domain": [-5, 25], "nice": false, "zero": false},
              "axis": {"title": "α", "titleFont": "Liberation Serif", "titleFontSize": 20, "titleFontWeight": "normal", "titlePadding": -3, "values": [-5,-4,-3,-2,-1,0,1,2,3,4,5,6,7,8,9,10,11,12,13,14,15,16,17,18,19,20,21,22,23,24,25], "labelExpr": "datum.value % 5 === 0 ? '' + datum.value : ''", "tickSize": {"condition": {"test": "datum.value % 5 === 0", "value": -9}, "value": -5}, "gridOpacity": {"condition": {"test": "datum.value % 5 === 0", "value": 1}, "value": 0}, "labelPadding": 9}},
            "x2": {"datum": 3.3},
            "y": {"datum": 2.93, "type": "quantitative", "scale": {"domain": [0.5, 3], "nice": false, "zero": false},
              "axis": {"title": "Cʟ", "titleFontSize": 26, "titleFontWeight": "bold", "titlePadding": 4, "values": [0.5,0.6,0.7,0.8,0.9,1,1.1,1.2,1.3,1.4,1.5,1.6,1.7,1.8,1.9,2,2.1,2.2,2.3,2.4,2.5,2.6,2.7,2.8,2.9,3], "labelExpr": "(datum.value * 2) % 1 === 0 ? '' + datum.value : ''", "tickSize": {"condition": {"test": "(datum.value * 2) % 1 === 0", "value": -9}, "value": -5}, "gridOpacity": {"condition": {"test": "(datum.value * 2) % 1 === 0", "value": 1}, "value": 0}, "labelPadding": 16}},
            "y2": {"datum": 2.66}}},
        {"data": {"name": "notes2"}, "mark": {"type": "text", "align": "left", "baseline": "middle", "font": "Open Sans", "fontSize": 21, "color": "#111"},
          "encoding": {
            "x": {"datum": -1.21, "type": "quantitative", "scale": {"domain": [-5, 25], "nice": false, "zero": false},
              "axis": {"title": "α", "titleFont": "Liberation Serif", "titleFontSize": 20, "titleFontWeight": "normal", "titlePadding": -3, "values": [-5,-4,-3,-2,-1,0,1,2,3,4,5,6,7,8,9,10,11,12,13,14,15,16,17,18,19,20,21,22,23,24,25], "labelExpr": "datum.value % 5 === 0 ? '' + datum.value : ''", "tickSize": {"condition": {"test": "datum.value % 5 === 0", "value": -9}, "value": -5}, "gridOpacity": {"condition": {"test": "datum.value % 5 === 0", "value": 1}, "value": 0}, "labelPadding": 9}},
            "y": {"datum": 2.78, "type": "quantitative", "scale": {"domain": [0.5, 3], "nice": false, "zero": false},
              "axis": {"title": "Cʟ", "titleFontSize": 26, "titleFontWeight": "bold", "titlePadding": 4, "values": [0.5,0.6,0.7,0.8,0.9,1,1.1,1.2,1.3,1.4,1.5,1.6,1.7,1.8,1.9,2,2.1,2.2,2.3,2.4,2.5,2.6,2.7,2.8,2.9,3], "labelExpr": "(datum.value * 2) % 1 === 0 ? '' + datum.value : ''", "tickSize": {"condition": {"test": "(datum.value * 2) % 1 === 0", "value": -9}, "value": -5}, "gridOpacity": {"condition": {"test": "(datum.value * 2) % 1 === 0", "value": 1}, "value": 0}, "labelPadding": 16}},
            "text": {"field": "t"}}}
      ]
    }
  ],
  "resolve": {"scale": {"color": "independent"}}
}
